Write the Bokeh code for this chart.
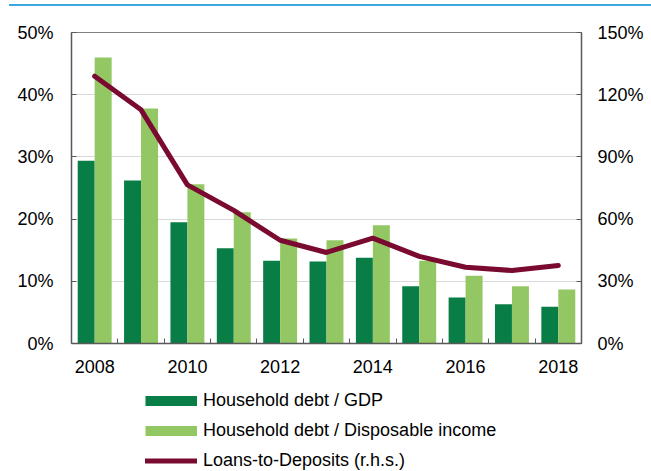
import math
from bokeh.plotting import figure
from bokeh.models import (ColumnDataSource, Range1d, LinearAxis, FixedTicker,
                          PrintfTickFormatter, Legend, LegendItem, Div)
from bokeh.layouts import column
from bokeh.transform import dodge
from bokeh.embed import file_html
from bokeh.resources import INLINE

# ---- data ----
years = [2008, 2009, 2010, 2011, 2012, 2013, 2014, 2015, 2016, 2017, 2018]
debt_gdp = [29.4, 26.2, 19.5, 15.3, 13.3, 13.2, 13.8, 9.2, 7.4, 6.3, 5.9]
debt_income = [46.0, 37.8, 25.6, 21.1, 16.9, 16.6, 19.0, 13.3, 10.9, 9.2, 8.7]
loans_to_deposits = [128.9, 112.7, 76.5, 64.2, 49.8, 43.9, 50.8, 42.0, 36.8, 35.2, 37.6]
left_ticks = [0, 10, 20, 30, 40, 50]
right_ticks = [0, 30, 60, 90, 120, 150]
x_label_years = [2008, 2010, 2012, 2014, 2016, 2018]
legend_labels = ["Household debt / GDP", "Household debt / Disposable income",
                 "Loans-to-Deposits (r.h.s.)"]

DARK = "#087d45"
LIGHT = "#93c764"
MAROON = "#7a0a30"
AXIS = "#595959"
BLUE = "#3ba7e1"
FONT = "Liberation Sans"
FS = "18px"

W = 651

# ---- thin blue header rule ----
top = Div(text="", width=642, height=2, margin=(4, 0, 1, 9),
          styles={"background-color": BLUE})

# ---- main chart ----
src = ColumnDataSource(dict(year=years, gdp=debt_gdp, inc=debt_income, ltd=loans_to_deposits))

p = figure(width=W, height=378, output_backend="svg", toolbar_location=None,
           x_range=Range1d(2007.5, 2018.5), y_range=Range1d(0, 50),
           min_border_left=71, min_border_right=70, min_border_top=25, min_border_bottom=42)
p.extra_y_ranges = {"rhs": Range1d(0, 150)}
p.outline_line_color = "#808080"
p.outline_line_width = 1

w = 0.366
p.vbar(x=dodge("year", -w / 2, range=p.x_range), top="gdp", width=w, source=src,
       fill_color=DARK, line_color=None)
p.vbar(x=dodge("year", w / 2, range=p.x_range), top="inc", width=w, source=src,
       fill_color=LIGHT, line_color=None)
p.line(x="year", y="ltd", source=src, y_range_name="rhs", line_color=MAROON,
       line_width=5, line_join="round", line_cap="round")

xa = p.xaxis[0]
xa.ticker = FixedTicker(ticks=x_label_years, minor_ticks=[y + 0.5 for y in years])
xa.major_tick_in = 0
xa.major_tick_out = 0
xa.minor_tick_in = 5
xa.minor_tick_out = 0
xa.minor_tick_line_color = AXIS
xa.axis_line_color = AXIS
xa.axis_line_width = 1.5
xa.major_label_standoff = 16

ya = p.yaxis[0]
ya.ticker = FixedTicker(ticks=left_ticks)
ya.formatter = PrintfTickFormatter(format="%d%%")
ya.minor_tick_line_color = None
ya.major_tick_in = 5
ya.major_tick_out = 0
ya.major_tick_line_color = AXIS
ya.axis_line_color = AXIS
ya.axis_line_width = 1.5
ya.major_label_standoff = 18

ra = LinearAxis(y_range_name="rhs", ticker=FixedTicker(ticks=right_ticks),
                formatter=PrintfTickFormatter(format="%d%%"))
ra.minor_tick_line_color = None
ra.major_tick_in = 5
ra.major_tick_out = 0
ra.major_tick_line_color = AXIS
ra.axis_line_color = AXIS
ra.axis_line_width = 1.5
ra.major_label_standoff = 16
p.add_layout(ra, "right")

for ax in (xa, ya, ra):
    ax.major_label_text_font = FONT
    ax.major_label_text_font_size = FS
    ax.major_label_text_color = "#000000"

p.xgrid.grid_line_color = None
p.ygrid.ticker = FixedTicker(ticks=left_ticks)
p.ygrid.grid_line_color = "#d9d9d9"
p.ygrid.grid_line_width = 1

# ---- legend strip ----
lg = figure(width=W, height=86, output_backend="svg", toolbar_location=None,
            x_range=Range1d(0, 1), y_range=Range1d(0, 1),
            min_border_left=0, min_border_right=0, min_border_top=0, min_border_bottom=0)
lg.axis.visible = False
lg.grid.visible = False
lg.outline_line_color = None

blank = ColumnDataSource(dict(x=[math.nan], y=[math.nan]))
d1 = lg.line(x="x", y="y", source=blank, line_color=DARK, line_width=10, line_cap="butt")
d2 = lg.line(x="x", y="y", source=blank, line_color=LIGHT, line_width=10, line_cap="butt")
d3 = lg.line(x="x", y="y", source=blank, line_color=MAROON, line_width=5, line_cap="round")

legend = Legend(items=[LegendItem(label=legend_labels[0], renderers=[d1]),
                       LegendItem(label=legend_labels[1], renderers=[d2]),
                       LegendItem(label=legend_labels[2], renderers=[d3])],
                location=(74, 0), glyph_width=52, glyph_height=21, label_height=21,
                spacing=9, padding=0, margin=0, border_line_color=None,
                background_fill_alpha=0, label_standoff=6,
                label_text_font=FONT, label_text_font_size=FS, label_text_color="#000000")
lg.add_layout(legend)

layout = column(top, p, lg, spacing=0)

open("out.html", "w").write(file_html(layout, INLINE))
